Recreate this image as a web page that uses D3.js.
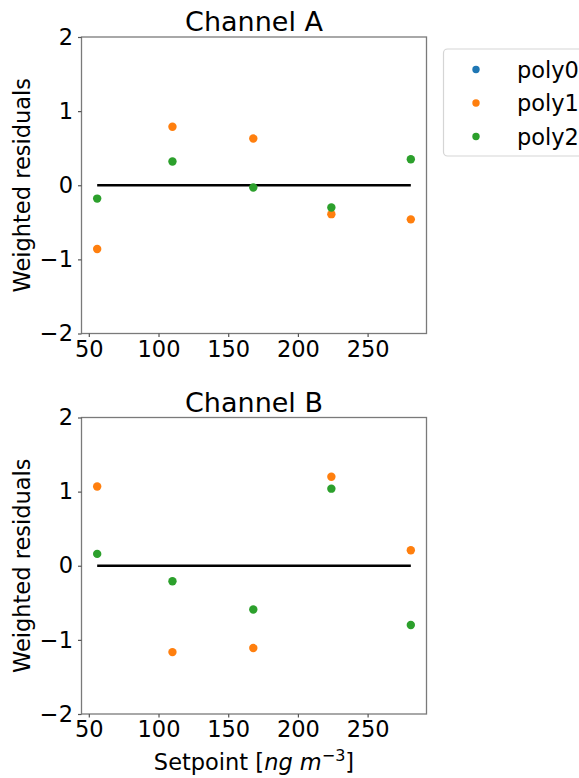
<!DOCTYPE html>
<html>
<head>
<meta charset="utf-8">
<script src="https://cdn.jsdelivr.net/npm/d3@7"></script>
<style>
body { margin: 0; background: #fff; }
text { font-family: "DejaVu Sans", sans-serif; fill: #000; }
</style>
</head>
<body>
<svg id="main" width="579" height="778"></svg>
<script>
// data
var setpoints = [56, 110, 168, 224, 281];
var seriesNames = ["poly0", "poly1", "poly2"];
var seriesColors = ["#1f77b4", "#ff7f0e", "#2ca02c"];
var chanAPoly0 = [];
var chanAPoly1 = [-0.86, 0.79, 0.63, -0.39, -0.46];
var chanAPoly2 = [-0.18, 0.32, -0.03, -0.30, 0.35];
var chanBPoly0 = [];
var chanBPoly1 = [1.07, -1.165, -1.11, 1.20, 0.21];
var chanBPoly2 = [0.16, -0.21, -0.59, 1.04, -0.80];
var xTicks = [50, 100, 150, 200, 250];
var yTicks = [-2, -1, 0, 1, 2];

var panels = [
	{ title: "Channel A", top: 37, bottom: 333.5, series: [chanAPoly0, chanAPoly1, chanAPoly2], xlabel: false },
	{ title: "Channel B", top: 417.5, bottom: 714, series: [chanBPoly0, chanBPoly1, chanBPoly2], xlabel: true }
];

var svg = d3.select("#main");
var left = 81.5, right = 426.5;
var fs = 22.5;

// matplotlib-style 5% margins
var xmin = d3.min(setpoints), xmax = d3.max(setpoints), pad = (xmax - xmin) * 0.05;
var x = d3.scaleLinear().domain([xmin - pad, xmax + pad]).range([left, right]);

panels.forEach(function(p) {
	var y = d3.scaleLinear().domain([-2, 2]).range([p.bottom, p.top]);
	var g = svg.append("g");

	g.append("rect").attr("x", left).attr("y", p.top).attr("width", right - left).attr("height", p.bottom - p.top)
		.attr("fill", "none").attr("stroke", "#7a7a7a").attr("stroke-width", 1.3);

	var xa = g.append("g").attr("transform", "translate(0," + p.bottom + ")")
		.call(d3.axisBottom(x).tickValues(xTicks).tickSize(3.5).tickPadding(4).tickFormat(d3.format("d")));
	var ya = g.append("g").attr("transform", "translate(" + left + ",0)")
		.call(d3.axisLeft(y).tickValues(yTicks).tickSize(3.5).tickPadding(5).tickFormat(d3.format("d")));
	[xa, ya].forEach(function(a) {
		a.select(".domain").remove();
		a.selectAll(".tick line").attr("stroke", "#555").attr("stroke-width", 1.2);
		a.selectAll(".tick text").style("font-size", fs + "px").attr("fill", "#000");
	});

	// zero line over data range
	g.append("line").attr("x1", x(xmin)).attr("x2", x(xmax)).attr("y1", y(0)).attr("y2", y(0))
		.attr("stroke", "#000").attr("stroke-width", 2.3);

	p.series.forEach(function(vals, si) {
		g.selectAll(null).data(vals).enter().append("circle")
			.attr("cx", function(d, i) { return x(setpoints[i]); })
			.attr("cy", function(d) { return y(d); })
			.attr("r", 4.2).attr("fill", seriesColors[si]);
	});

	g.append("text").attr("x", (left + right) / 2).attr("y", p.top - 6).attr("text-anchor", "middle")
		.style("font-size", "27px").text(p.title);

	g.append("text").attr("transform", "translate(30," + (p.top + p.bottom) / 2 + ") rotate(-90)")
		.attr("text-anchor", "middle").style("font-size", fs + "px").text("Weighted residuals");

	if (p.xlabel) {
		var xl = g.append("text").attr("x", (left + right) / 2).attr("y", 770).attr("text-anchor", "middle")
			.style("font-size", fs + "px");
		xl.append("tspan").text("Setpoint [");
		xl.append("tspan").style("font-style", "italic").text("ng m");
		xl.append("tspan").attr("dy", -9).style("font-size", "16px").text("\u22123");
		xl.append("tspan").attr("dy", 9).text("]");
	}
});

// legend
var lg = svg.append("g");
lg.append("rect").attr("x", 443.5).attr("y", 49).attr("width", 160).attr("height", 107).attr("rx", 4)
	.attr("fill", "#fff").attr("stroke", "#d5d5d5").attr("stroke-width", 1.2);
var legendY = d3.scalePoint().domain(seriesNames).range([69.5, 136.5]);
seriesNames.forEach(function(n, i) {
	lg.append("circle").attr("cx", 476).attr("cy", legendY(n)).attr("r", 3.7).attr("fill", seriesColors[i]);
	lg.append("text").attr("x", 517).attr("y", legendY(n)).attr("dy", "0.36em").style("font-size", fs + "px").text(n);
});
</script>
</body>
</html>
